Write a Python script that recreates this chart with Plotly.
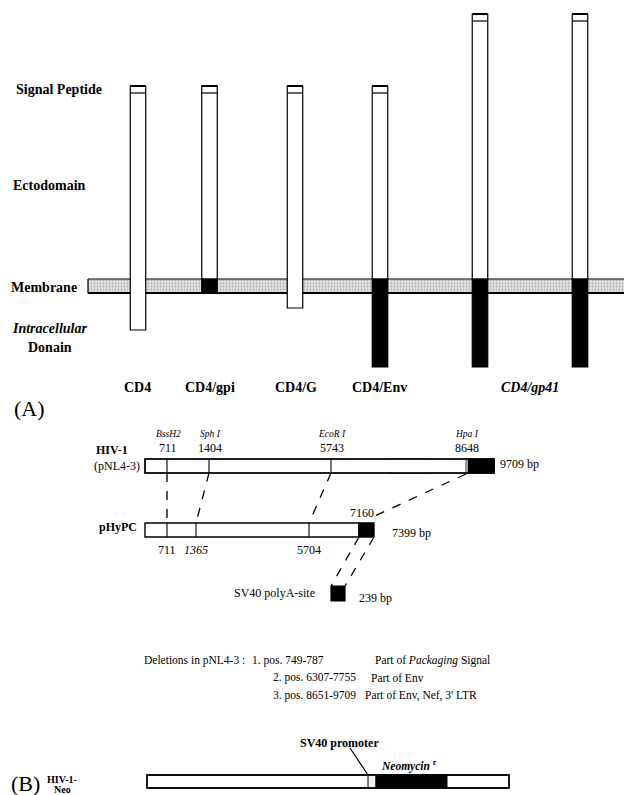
import plotly.graph_objects as go

W, H = 624, 795
SERIF = "Liberation Serif, Times New Roman, serif"

# ---------------- Panel A data ----------------
domain_labels = ["Signal Peptide", "Ectodomain", "Membrane", "Intracellular", "Donain"]
constructs = ["CD4", "CD4/gpi", "CD4/G", "CD4/Env", "CD4/gp41"]
# one entry per drawn molecule (CD4/gp41 is shown as two molecules)
molecule_construct = ["CD4", "CD4/gpi", "CD4/G", "CD4/Env", "CD4/gp41", "CD4/gp41"]
ectodomain_kind = ["normal", "normal", "normal", "normal", "long", "long"]
membrane_anchor = ["CD4 TM", "GPI", "G TM", "Env TM", "gp41 TM", "gp41 TM"]
anchor_colour = ["white", "black", "white", "black", "black", "black"]
tail_kind = ["CD4 tail", "none", "G tail", "Env tail", "Env tail", "Env tail"]

# ---------------- Panel B data ----------------
hiv_sites = ["BssH2", "Sph I", "EcoR I", "Hpa I"]
hiv_site_bp = [711, 1404, 5743, 8648]
hiv_length_bp = 9709
phypc_site_bp = [711, 1365, 5704]
phypc_junction_bp = 7160
phypc_length_bp = 7399
polya_length_bp = 239
deletion_ranges = ["1. pos. 749-787", "2. pos. 6307-7755", "3. pos. 8651-9709"]
deletion_parts = ["Part of <i>Packaging</i> Signal", "Part of Env", "Part of Env, Nef, 3' LTR"]

# ---------------- geometry (schematic, not to scale) ----------------
mol_x = [138, 209.5, 295, 380, 480, 580]
mol_w = 15.5
ecto_top = {"normal": 86, "long": 14}
cap_h = 7
mem_top, mem_bot = 279, 293
tail_bottom = {"CD4 tail": 330, "none": 293, "G tail": 308, "Env tail": 367}
label_x = {"CD4": 137, "CD4/gpi": 210, "CD4/G": 296, "CD4/Env": 379, "CD4/gp41": 530}

hiv_x0, hiv_x1, hiv_y0, hiv_y1 = 145, 494, 459, 473
hiv_site_x = [167, 209, 331, 466]
phy_x0, phy_x1, phy_black, phy_y0, phy_y1 = 145, 374, 359, 523, 537
phy_site_x = [167, 196, 309]
pa_x0, pa_x1, pa_y0, pa_y1 = 331, 345, 586, 601
del_range_x = [250, 271, 271]
del_part_x = [373, 369, 363]

shapes = []
annotations = []


def rect(x0, x1, y0, y1, fill="white", lw=1.2, lc="black"):
    shapes.append(dict(type="rect", xref="x", yref="y", x0=x0, x1=x1, y0=y0, y1=y1,
                       fillcolor=fill, line=dict(color=lc, width=lw)))


def line(x0, y0, x1, y1, lw=1.2, dash="solid", color="black"):
    shapes.append(dict(type="line", xref="x", yref="y", x0=x0, y0=y0, x1=x1, y1=y1,
                       line=dict(color=color, width=lw, dash=dash)))


def text(x, y, s, size=12, bold=False, italic=False, xanchor="center", color="black"):
    if italic:
        s = "<i>" + s + "</i>"
    if bold:
        s = "<b>" + s + "</b>"
    annotations.append(dict(x=x, y=y, xref="x", yref="y", text=s, showarrow=False,
                            xanchor=xanchor, yanchor="middle",
                            font=dict(family=SERIF, size=size, color=color)))


fig = go.Figure()

# membrane band (stippled)
fig.add_trace(go.Scatter(
    x=[88, 630, 630, 88, 88], y=[mem_top, mem_top, mem_bot, mem_bot, mem_top],
    mode="lines", fill="toself", fillcolor="#dedede",
    fillpattern=dict(shape=".", fgcolor="#7a7a7a", bgcolor="#e2e2e2", size=3, solidity=0.3),
    line=dict(color="black", width=1.2), hoverinfo="skip", showlegend=False))
line(88, mem_bot, 630, mem_bot, lw=1.8)

# molecules
for i, cx in enumerate(mol_x):
    x0, x1 = cx - mol_w / 2, cx + mol_w / 2
    top = ecto_top[ectodomain_kind[i]]
    bottom = tail_bottom[tail_kind[i]]
    if anchor_colour[i] == "white":
        rect(x0, x1, top, bottom, "white")
    else:
        rect(x0, x1, top, mem_top, "white")
        rect(x0, x1, mem_top, bottom, "black")
    line(x0, top + cap_h, x1, top + cap_h, lw=1.2)
    line(x0, top, x1, top, lw=2)

# panel A labels
text(14, 89, domain_labels[0], 14, bold=True, xanchor="left")
text(11, 185, domain_labels[1], 14, bold=True, xanchor="left")
text(79, 287, domain_labels[2], 14, bold=True, xanchor="right")
text(49, 328, domain_labels[3], 14, bold=True, italic=True)
text(50, 347, domain_labels[4], 14, bold=True)
for c in constructs:
    text(label_x[c], 387, c, 14, bold=True, italic=(c == "CD4/gp41"))
text(29, 408, "(A)", 22)

# ---------------- Panel B ----------------
# HIV-1 (pNL4-3)
rect(hiv_x0, hiv_x1, hiv_y0, hiv_y1, "white")
fig.add_trace(go.Scatter(
    x=[387, 429, 434, 431, 387, 387], y=[hiv_y0, hiv_y0, 466, hiv_y1, hiv_y1, hiv_y0],
    mode="lines", fill="toself", fillcolor="black", line=dict(color="black", width=1),
    hoverinfo="skip", showlegend=False))
rect(hiv_site_x[3], hiv_x1, hiv_y0, hiv_y1, "black")
rect(hiv_site_x[3] - 1, hiv_site_x[3] + 2, hiv_y0, hiv_y1, "#9a9a9a", lw=0)
rect(hiv_x0, hiv_x1, hiv_y0, hiv_y1, "rgba(0,0,0,0)", lw=1.4)
for sx in hiv_site_x[:3]:
    line(sx, hiv_y0, sx, hiv_y1, lw=1.1)
for name, bp, sx in zip(hiv_sites, hiv_site_bp, hiv_site_x):
    text(sx + 1, 434, name, 9.5, italic=True)
    text(sx + 1, 448, str(bp), 12)
text(112, 450, "HIV-1", 12, bold=True)
text(142, 466, "(pNL4-3)", 12, xanchor="right")
text(498, 464, f"{hiv_length_bp} bp", 12, xanchor="left")

# pHyPC
rect(phy_x0, phy_black, phy_y0, phy_y1, "white", lw=1.4)
rect(phy_black, phy_x1, phy_y0, phy_y1, "black", lw=1.4)
for sx in phy_site_x:
    line(sx, phy_y0, sx, phy_y1, lw=1.1)
for bp, sx in zip(phypc_site_bp, phy_site_x):
    text(sx, 550, str(bp), 12, italic=(bp == 1365))
text(362, 513, str(phypc_junction_bp), 12)
text(390, 533, f"{phypc_length_bp} bp", 12, xanchor="left")
text(118, 527, "pHyPC", 12, bold=True)

# SV40 polyA
rect(pa_x0, pa_x1, pa_y0, pa_y1, "black")
text(317, 593, "SV40 polyA-site", 12, xanchor="right")
text(357, 598, f"{polya_length_bp} bp", 12, xanchor="left")

# dashed connectors
for hx, px in zip(hiv_site_x[:3], phy_site_x):
    line(hx, hiv_y1, px, phy_y0, lw=1.3, dash="dash")
line(hiv_site_x[3], hiv_y1 + 1, 368, 519, lw=1.3, dash="dash")
line(phy_black, phy_y1, pa_x0, pa_y0, lw=1.3, dash="dash")
line(phy_x1, phy_y1, pa_x1, pa_y0, lw=1.3, dash="dash")

# deletions
text(247, 660, "Deletions in pNL4-3 :", 11.5, xanchor="right")
for k, (rng, part) in enumerate(zip(deletion_ranges, deletion_parts)):
    y = 660 + 17.5 * k
    text(del_range_x[k], y, rng, 11.5, xanchor="left")
    text(del_part_x[k], y, part, 11.5, xanchor="left")

# HIV-1-Neo
text(25, 783, "(B)", 22)
text(62, 779, "HIV-1-", 10, bold=True)
text(62, 789, "Neo", 10, bold=True)
rect(147, 509, 775, 788, "white", lw=1.3)
rect(368, 376, 775, 788, "#eeeeee", lw=1)
rect(376, 447, 775, 788, "black", lw=1)
rect(147, 509, 775, 788, "rgba(0,0,0,0)", lw=1.3)
line(350, 748, 368, 775, lw=1.2)
text(339, 743, "SV40 promoter", 12, bold=True)
text(409, 765, "<i>Neomycin</i> <sup>r</sup>", 11.5, bold=True)

fig.update_layout(
    width=W, height=H, margin=dict(l=0, r=0, t=0, b=0),
    paper_bgcolor="white", plot_bgcolor="white",
    xaxis=dict(range=[0, W], visible=False, fixedrange=True),
    yaxis=dict(range=[H, 0], visible=False, fixedrange=True),
    shapes=shapes, annotations=annotations, showlegend=False,
)
fig.write_html("out.html")
